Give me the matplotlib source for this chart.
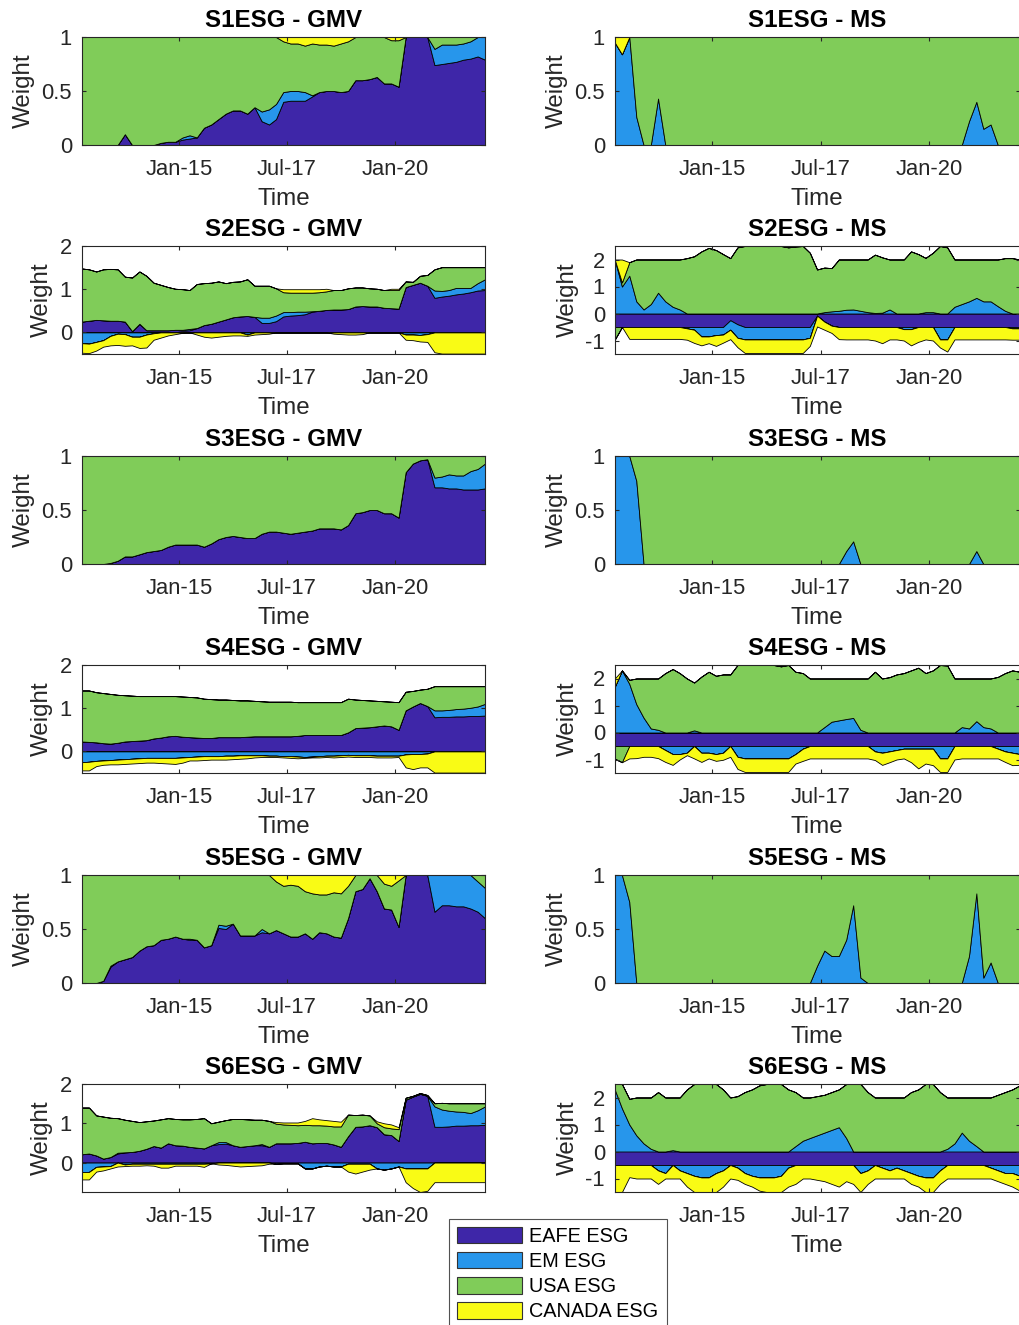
import numpy as np
import pandas as pd
import matplotlib
matplotlib.use("agg")
import matplotlib.pyplot as plt
from matplotlib.patches import Patch

plt.rcParams['font.family'] = ['Liberation Sans', 'DejaVu Sans']
plt.rcParams['axes.unicode_minus'] = False

# bi-monthly portfolio weights, Oct-2012 .. Feb-2022
dates = pd.date_range('2012-10-01', periods=57, freq='2MS')
tick_dates = [pd.Timestamp('2015-01-01'), pd.Timestamp('2017-07-01'), pd.Timestamp('2020-01-01')]
tick_labels = ['Jan-15', 'Jul-17', 'Jan-20']

names = ['EAFE ESG', 'EM ESG', 'USA ESG', 'CANADA ESG']
colors = ['#3E26A8', '#2796EB', '#80CC59', '#F9FB15']

zeros57 = [0] * 57

## S1ESG
s1_gmv_eafe = [0, 0, 0, 0, 0, 0, 0.10, 0, 0, 0,
               0, 0.02, 0.03, 0.03, 0.05, 0.06, 0.07, 0.16, 0.19, 0.24,
               0.29, 0.32, 0.32, 0.29, 0.35, 0.22, 0.19, 0.24, 0.40, 0.41,
               0.41, 0.41, 0.45, 0.49, 0.50, 0.50, 0.49, 0.50, 0.60, 0.60,
               0.61, 0.63, 0.57, 0.57, 0.54, 1.00, 1.00, 1.00, 1.00, 0.74,
               0.75, 0.76, 0.77, 0.79, 0.80, 0.82, 0.79]
s1_gmv_em = [0, 0, 0, 0, 0, 0, 0, 0, 0, 0,
             0, 0, 0, 0, 0.02, 0.03, 0, 0, 0, 0,
             0, 0, 0, 0, 0, 0.09, 0.14, 0.14, 0.09, 0.09,
             0.09, 0.08, 0.01, 0, 0, 0, 0, 0, 0, 0,
             0, 0, 0, 0, 0, 0, 0, 0, 0, 0.15,
             0.18, 0.17, 0.16, 0.15, 0.16, 0.18, 0.21]
s1_gmv_usa = [1, 1, 1, 1, 1, 1, 0.90, 1, 1, 1,
              1, 0.98, 0.97, 0.97, 0.93, 0.91, 0.93, 0.84, 0.81, 0.76,
              0.71, 0.68, 0.68, 0.71, 0.65, 0.69, 0.67, 0.62, 0.47, 0.44,
              0.44, 0.43, 0.48, 0.44, 0.43, 0.42, 0.45, 0.46, 0.40, 0.40,
              0.39, 0.37, 0.43, 0.40, 0.43, 0, 0, 0, 0, 0.11,
              0.07, 0.07, 0.07, 0.06, 0.04, 0, 0]
s1_gmv_can = [0, 0, 0, 0, 0, 0, 0, 0, 0, 0,
              0, 0, 0, 0, 0, 0, 0, 0, 0, 0,
              0, 0, 0, 0, 0, 0, 0, 0, 0.04, 0.06,
              0.06, 0.08, 0.06, 0.07, 0.07, 0.08, 0.06, 0.04, 0, 0,
              0, 0, 0, 0.03, 0.03, 0, 0, 0, 0, 0,
              0, 0, 0, 0, 0, 0, 0]

s1_ms_eafe = zeros57
s1_ms_em = [0.95, 0.84, 1.00, 0.26, 0, 0, 0.43, 0, 0, 0,
            0, 0, 0, 0, 0, 0, 0, 0, 0, 0,
            0, 0, 0, 0, 0, 0, 0, 0, 0, 0,
            0, 0, 0, 0, 0, 0, 0, 0, 0, 0,
            0, 0, 0, 0, 0, 0, 0, 0, 0, 0.22,
            0.40, 0.15, 0.19, 0, 0, 0, 0]
s1_ms_usa = [0, 0, 0, 0.74, 1, 1, 0.57, 1, 1, 1,
             1, 1, 1, 1, 1, 1, 1, 1, 1, 1,
             1, 1, 1, 1, 1, 1, 1, 1, 1, 1,
             1, 1, 1, 1, 1, 1, 1, 1, 1, 1,
             1, 1, 1, 1, 1, 1, 1, 1, 1, 0.78,
             0.60, 0.85, 0.81, 1, 1, 1, 1]
s1_ms_can = [0.05, 0.16] + [0] * 55

## S2ESG
s2_gmv_eafe = [0.25, 0.27, 0.29, 0.28, 0.27, 0.27, 0.25, 0.03, 0.20, 0.05,
               0.05, 0.05, 0.05, 0.06, 0.04, 0.05, 0.10, 0.17, 0.20, 0.25,
               0.30, 0.35, 0.37, 0.38, 0.36, 0.22, 0.22, 0.26, 0.37, 0.39,
               0.40, 0.42, 0.48, 0.50, 0.52, 0.53, 0.53, 0.54, 0.60, 0.61,
               0.60, 0.60, 0.57, 0.56, 0.55, 1.05, 1.10, 1.15, 1.08, 0.80,
               0.83, 0.85, 0.88, 0.90, 0.93, 0.97, 0.98]
s2_gmv_em = [-0.25, -0.26, -0.22, -0.18, -0.08, -0.03, -0.04, -0.10, -0.10, -0.05,
             -0.02, 0, 0, 0, 0.02, 0.03, 0, 0, 0, 0,
             0, 0, 0, -0.05, 0, 0.12, 0.12, 0.13, 0.10, 0.08,
             0.08, 0.06, 0.01, 0, 0, 0, 0, 0, 0, 0,
             0, 0, 0, 0, 0, -0.05, -0.05, -0.06, -0.04, 0.17,
             0.13, 0.13, 0.15, 0.13, 0.10, 0.17, 0.25]
s2_gmv_usa = [1.23, 1.19, 1.12, 1.18, 1.20, 1.19, 1.04, 1.24, 1.21, 1.26,
              1.10, 1.05, 1.00, 0.95, 0.94, 0.90, 1.02, 0.97, 0.95, 0.93,
              0.84, 0.82, 0.81, 0.85, 0.72, 0.74, 0.74, 0.63, 0.46, 0.45,
              0.44, 0.44, 0.43, 0.43, 0.43, 0.45, 0.45, 0.48, 0.44, 0.43,
              0.42, 0.41, 0.41, 0.42, 0.43, 0.13, 0.07, 0.16, 0.25, 0.49,
              0.55, 0.53, 0.48, 0.48, 0.48, 0.37, 0.28]
s2_gmv_can = [-0.22, -0.22, -0.20, -0.15, -0.22, -0.26, -0.27, -0.20, -0.26, -0.30,
              -0.15, -0.12, -0.07, -0.04, -0.01, 0, -0.05, -0.10, -0.12, -0.10,
              -0.08, -0.07, -0.07, -0.03, -0.05, -0.04, -0.03, 0, 0.07, 0.08,
              0.08, 0.08, 0.08, 0.07, 0.06, -0.03, -0.04, -0.05, -0.05, -0.04,
              0, 0, 0, 0.03, 0.03, -0.12, -0.13, -0.15, -0.18, -0.46,
              -0.49, -0.49, -0.49, -0.49, -0.49, -0.49, -0.49]

s2_ms_eafe = [-0.5, -0.5, -0.5, -0.5, -0.5, -0.5, -0.5, -0.5, -0.5, -0.5,
              -0.5, -0.5, -0.5, -0.5, -0.5, -0.5, -0.25, -0.40, -0.5, -0.5,
              -0.5, -0.5, -0.5, -0.5, -0.5, -0.5, -0.5, -0.5, -0.08, -0.30,
              -0.45, -0.5, -0.5, -0.5, -0.5, -0.5, -0.5, -0.5, -0.5, -0.5,
              -0.5, -0.5, -0.5, -0.5, -0.5, -0.5, -0.5, -0.5, -0.5, -0.5,
              -0.5, -0.5, -0.5, -0.5, -0.5, -0.5, -0.5]
s2_ms_em = [2.00, 1.00, 1.40, 0.45, 0.15, 0.35, 0.77, 0.45, 0.25, 0.15,
            -0.05, -0.10, -0.35, -0.35, -0.30, -0.28, -0.35, -0.50, -0.46, -0.46,
            -0.46, -0.46, -0.46, -0.46, -0.46, -0.46, -0.46, -0.40, 0, 0.05,
            0.08, 0.10, 0.14, 0.15, 0.10, 0.05, 0.02, 0.03, 0.15, 0,
            -0.08, -0.08, 0, 0.05, 0.05, -0.46, -0.46, 0.25, 0.35, 0.45,
            0.58, 0.45, 0.45, 0.27, 0.10, -0.05, -0.05]
s2_ms_usa = [-0.47, 0.15, 0.50, 1.55, 1.85, 1.65, 1.23, 1.55, 1.75, 1.85,
             2.05, 2.12, 2.30, 2.43, 2.35, 2.20, 2.05, 2.45, 2.50, 2.50,
             2.50, 2.50, 2.50, 2.50, 2.45, 2.48, 2.50, 2.25, 1.63, 1.65,
             1.60, 1.90, 1.86, 1.85, 1.90, 1.95, 2.16, 2.05, 1.85, 2.00,
             2.00, 2.30, 2.20, 2.01, 2.20, 2.50, 2.45, 1.75, 1.65, 1.55,
             1.42, 1.55, 1.55, 1.73, 1.95, 2.05, 2.00]
s2_ms_can = [0, 0.85, -0.44, -0.44, -0.44, -0.44, -0.44, -0.44, -0.44, -0.44,
             -0.42, -0.49, -0.33, -0.25, -0.40, -0.30, -0.35, -0.35, -0.50, -0.50,
             -0.50, -0.50, -0.50, -0.50, -0.50, -0.50, -0.50, -0.30, -0.40, -0.30,
             -0.27, -0.45, -0.46, -0.46, -0.46, -0.46, -0.50, -0.60, -0.46, -0.46,
             -0.42, -0.60, -0.55, -0.46, -0.50, -0.30, -0.45, -0.46, -0.46, -0.46,
             -0.46, -0.46, -0.46, -0.46, -0.46, -0.42, -0.42]

## S3ESG
s3_gmv_eafe = [0, 0, 0, 0, 0.01, 0.03, 0.07, 0.07, 0.09, 0.11,
               0.12, 0.13, 0.16, 0.18, 0.18, 0.18, 0.18, 0.16, 0.19, 0.23,
               0.25, 0.26, 0.25, 0.24, 0.24, 0.28, 0.30, 0.30, 0.29, 0.28,
               0.29, 0.30, 0.31, 0.33, 0.33, 0.33, 0.32, 0.36, 0.47, 0.48,
               0.50, 0.50, 0.47, 0.47, 0.43, 0.85, 0.93, 0.96, 0.97, 0.71,
               0.71, 0.70, 0.70, 0.69, 0.69, 0.69, 0.70]
s3_gmv_em = [0] * 49 + [0.09, 0.10, 0.13, 0.12, 0.13, 0.17, 0.19, 0.23]
s3_gmv_usa = [1, 1, 1, 1, 0.99, 0.97, 0.93, 0.93, 0.91, 0.89,
              0.88, 0.87, 0.84, 0.82, 0.82, 0.82, 0.82, 0.84, 0.81, 0.77,
              0.75, 0.74, 0.75, 0.76, 0.76, 0.72, 0.70, 0.70, 0.71, 0.72,
              0.71, 0.70, 0.69, 0.67, 0.67, 0.67, 0.68, 0.64, 0.53, 0.52,
              0.50, 0.50, 0.53, 0.53, 0.57, 0.15, 0.07, 0.04, 0.03, 0.20,
              0.19, 0.17, 0.18, 0.18, 0.14, 0.12, 0.07]
s3_gmv_can = zeros57

s3_ms_eafe = zeros57
s3_ms_em = [1.00, 1.00, 1.00, 0.77, 0, 0, 0, 0, 0, 0,
            0, 0, 0, 0, 0, 0, 0, 0, 0, 0,
            0, 0, 0, 0, 0, 0, 0, 0, 0, 0,
            0, 0, 0.12, 0.21, 0, 0, 0, 0, 0, 0,
            0, 0, 0, 0, 0, 0, 0, 0, 0, 0,
            0.12, 0, 0, 0, 0, 0, 0]
s3_ms_usa = [0, 0, 0, 0.23, 1, 1, 1, 1, 1, 1,
             1, 1, 1, 1, 1, 1, 1, 1, 1, 1,
             1, 1, 1, 1, 1, 1, 1, 1, 1, 1,
             1, 1, 0.88, 0.79, 1, 1, 1, 1, 1, 1,
             1, 1, 1, 1, 1, 1, 1, 1, 1, 1,
             0.88, 1, 1, 1, 1, 1, 1]
s3_ms_can = zeros57

## S4ESG
s4_gmv_eafe = [0.23, 0.22, 0.21, 0.19, 0.18, 0.20, 0.23, 0.24, 0.25, 0.26,
               0.30, 0.32, 0.35, 0.36, 0.34, 0.33, 0.32, 0.31, 0.31, 0.33,
               0.33, 0.33, 0.33, 0.34, 0.35, 0.35, 0.35, 0.35, 0.35, 0.35,
               0.36, 0.38, 0.38, 0.38, 0.38, 0.38, 0.38, 0.44, 0.54, 0.55,
               0.56, 0.58, 0.60, 0.58, 0.50, 0.95, 1.04, 1.12, 1.05, 0.79,
               0.80, 0.80, 0.81, 0.81, 0.82, 0.82, 0.83]
s4_gmv_em = [-0.25, -0.24, -0.22, -0.21, -0.20, -0.19, -0.18, -0.17, -0.16, -0.15,
             -0.15, -0.15, -0.15, -0.15, -0.14, -0.13, -0.12, -0.11, -0.11, -0.11,
             -0.10, -0.10, -0.09, -0.09, -0.09, -0.09, -0.10, -0.10, -0.11, -0.11,
             -0.12, -0.13, -0.12, -0.11, -0.10, -0.10, -0.09, -0.08, -0.09, -0.09,
             -0.09, -0.10, -0.10, -0.10, -0.10, -0.07, -0.06, -0.06, -0.05, 0.16,
             0.15, 0.16, 0.17, 0.18, 0.19, 0.22, 0.27]
s4_gmv_usa = [1.18, 1.19, 1.16, 1.16, 1.15, 1.11, 1.07, 1.05, 1.03, 1.02,
              0.98, 0.96, 0.93, 0.92, 0.93, 0.93, 0.93, 0.91, 0.90, 0.87,
              0.87, 0.86, 0.85, 0.84, 0.82, 0.81, 0.80, 0.80, 0.80, 0.80,
              0.78, 0.76, 0.76, 0.76, 0.76, 0.76, 0.76, 0.78, 0.66, 0.64,
              0.62, 0.59, 0.56, 0.57, 0.64, 0.43, 0.36, 0.31, 0.40, 0.56,
              0.56, 0.55, 0.53, 0.52, 0.50, 0.47, 0.41]
s4_gmv_can = [-0.19, -0.20, -0.12, -0.10, -0.10, -0.11, -0.11, -0.11, -0.11, -0.11,
              -0.11, -0.12, -0.13, -0.14, -0.12, -0.08, -0.09, -0.09, -0.08, -0.08,
              -0.09, -0.08, -0.08, -0.07, -0.05, -0.04, -0.03, -0.03, -0.03, -0.04,
              -0.04, -0.02, -0.02, -0.03, -0.03, -0.04, -0.04, -0.04, -0.04, -0.04,
              -0.04, -0.04, -0.04, -0.04, -0.03, -0.30, -0.35, -0.31, -0.32, -0.49,
              -0.49, -0.49, -0.49, -0.49, -0.49, -0.49, -0.49]

s4_ms_eafe = [-0.5] * 57
s4_ms_em = [1.69, 2.30, 1.80, 1.05, 0.55, 0.15, 0.10, -0.15, -0.30, -0.30,
            -0.25, 0.08, -0.25, -0.25, -0.30, -0.25, 0, -0.40, -0.46, -0.46,
            -0.46, -0.46, -0.46, -0.46, -0.46, -0.30, -0.10, 0, 0, 0.20,
            0.40, 0.45, 0.50, 0.54, 0.10, 0, -0.20, -0.25, -0.20, -0.15,
            -0.10, -0.10, -0.10, -0.10, -0.10, -0.46, -0.46, 0, 0.20, 0.15,
            0.42, 0.20, 0.15, -0.10, -0.20, -0.25, -0.30]
s4_ms_usa = [-0.47, -0.60, 0.15, 0.95, 1.45, 1.85, 1.90, 2.20, 2.35, 2.20,
             2.00, 1.77, 2.07, 2.25, 2.10, 2.15, 2.15, 2.50, 2.50, 2.50,
             2.50, 2.50, 2.50, 2.45, 2.50, 2.25, 2.20, 2.00, 2.00, 1.80,
             1.60, 1.55, 1.50, 1.46, 1.90, 2.00, 2.25, 2.00, 2.05, 2.15,
             2.20, 2.30, 2.40, 2.20, 2.30, 2.50, 2.48, 2.00, 1.80, 1.85,
             1.58, 1.80, 1.85, 2.06, 2.20, 2.30, 2.25]
s4_ms_can = [0.31, 0, -0.46, -0.45, -0.40, -0.40, -0.45, -0.44, -0.40, -0.20,
             -0.09, -0.46, -0.34, -0.21, -0.25, -0.26, -0.40, -0.45, -0.50, -0.50,
             -0.50, -0.50, -0.50, -0.50, -0.50, -0.35, -0.45, -0.46, -0.46, -0.46,
             -0.46, -0.46, -0.46, -0.46, -0.46, -0.46, -0.32, -0.45, -0.40, -0.35,
             -0.36, -0.50, -0.73, -0.55, -0.61, -0.50, -0.50, -0.50, -0.46, -0.46,
             -0.46, -0.46, -0.46, -0.36, -0.39, -0.46, -0.40]

## S5ESG
s5_gmv_eafe = [0, 0, 0, 0.02, 0.15, 0.20, 0.22, 0.24, 0.30, 0.34,
               0.35, 0.40, 0.41, 0.43, 0.41, 0.40, 0.40, 0.33, 0.35, 0.51,
               0.50, 0.55, 0.44, 0.44, 0.44, 0.47, 0.46, 0.49, 0.46, 0.43,
               0.43, 0.46, 0.41, 0.47, 0.46, 0.43, 0.42, 0.60, 0.85, 0.87,
               0.97, 0.85, 0.69, 0.68, 0.52, 1.00, 1.00, 1.00, 1.00, 0.66,
               0.72, 0.72, 0.71, 0.71, 0.69, 0.66, 0.60]
s5_gmv_em = [0, 0, 0, 0, 0.01, 0, 0, 0, 0, 0,
             0, 0, 0, 0, 0, 0.01, 0, 0, 0, 0.03,
             0.03, 0, 0, 0, 0, 0.03, 0, 0, 0, 0,
             0, 0, 0, 0, 0, 0, 0, 0, 0, 0,
             0, 0, 0, 0, 0, 0, 0, 0, 0, 0.34,
             0.28, 0.28, 0.29, 0.29, 0.31, 0.28, 0.28]
s5_gmv_usa = [1, 1, 1, 0.98, 0.84, 0.80, 0.78, 0.76, 0.70, 0.66,
              0.65, 0.60, 0.59, 0.57, 0.59, 0.59, 0.60, 0.67, 0.65, 0.46,
              0.47, 0.45, 0.56, 0.56, 0.56, 0.50, 0.54, 0.45, 0.44, 0.48,
              0.47, 0.39, 0.42, 0.35, 0.36, 0.41, 0.41, 0.30, 0.15, 0.13,
              0.03, 0.15, 0.23, 0.22, 0.43, 0, 0, 0, 0, 0,
              0, 0, 0, 0, 0, 0.06, 0.12]
s5_gmv_can = [0, 0, 0, 0, 0, 0, 0, 0, 0, 0,
              0, 0, 0, 0, 0, 0, 0, 0, 0, 0,
              0, 0, 0, 0, 0, 0, 0, 0.06, 0.10, 0.09,
              0.10, 0.15, 0.17, 0.18, 0.18, 0.16, 0.17, 0.10, 0, 0,
              0, 0, 0.08, 0.10, 0.05, 0, 0, 0, 0, 0,
              0, 0, 0, 0, 0, 0, 0]

s5_ms_eafe = zeros57
s5_ms_em = [1.00, 1.00, 0.75, 0, 0, 0, 0, 0, 0, 0,
            0, 0, 0, 0, 0, 0, 0, 0, 0, 0,
            0, 0, 0, 0, 0, 0, 0, 0, 0.16, 0.30,
            0.25, 0.25, 0.40, 0.72, 0.05, 0, 0, 0, 0, 0,
            0, 0, 0, 0, 0, 0, 0, 0, 0, 0.25,
            0.83, 0.05, 0.19, 0, 0, 0, 0]
s5_ms_usa = [0, 0, 0.25, 1, 1, 1, 1, 1, 1, 1,
             1, 1, 1, 1, 1, 1, 1, 1, 1, 1,
             1, 1, 1, 1, 1, 1, 1, 1, 0.84, 0.70,
             0.75, 0.75, 0.60, 0.28, 0.95, 1, 1, 1, 1, 1,
             1, 1, 1, 1, 1, 1, 1, 1, 1, 0.75,
             0.17, 0.95, 0.81, 1, 1, 1, 1]
s5_ms_can = zeros57

## S6ESG
s6_gmv_eafe = [0.21, 0.23, 0.18, 0.10, 0.14, 0.23, 0.26, 0.27, 0.30, 0.35,
               0.42, 0.38, 0.49, 0.44, 0.43, 0.40, 0.38, 0.36, 0.44, 0.47,
               0.48, 0.44, 0.40, 0.42, 0.44, 0.44, 0.40, 0.49, 0.49, 0.49,
               0.50, 0.53, 0.49, 0.50, 0.50, 0.46, 0.40, 0.67, 0.91, 0.92,
               0.95, 0.90, 0.72, 0.70, 0.55, 1.60, 1.68, 1.75, 1.70, 0.91,
               0.91, 0.92, 0.94, 0.94, 0.95, 0.95, 0.96]
s6_gmv_em = [-0.24, -0.24, -0.11, -0.10, -0.09, 0.02, -0.05, -0.03, -0.03, -0.03,
             -0.03, -0.03, -0.03, -0.03, -0.03, -0.03, -0.03, -0.03, -0.02, 0.05,
             0.04, 0, 0, 0, 0, 0.03, 0, -0.03, -0.02, -0.02,
             -0.02, -0.15, -0.15, -0.10, -0.08, -0.10, -0.10, -0.03, -0.03, -0.03,
             -0.03, -0.15, -0.18, -0.15, -0.10, -0.15, -0.15, -0.15, -0.15, 0.52,
             0.44, 0.40, 0.36, 0.35, 0.31, 0.38, 0.47]
s6_gmv_usa = [1.19, 1.17, 1.02, 1.07, 1.00, 0.88, 0.83, 0.79, 0.73, 0.70,
              0.65, 0.72, 0.64, 0.67, 0.67, 0.70, 0.73, 0.77, 0.56, 0.52,
              0.56, 0.67, 0.71, 0.68, 0.65, 0.62, 0.66, 0.50, 0.48, 0.47,
              0.45, 0.43, 0.46, 0.45, 0.44, 0.46, 0.52, 0.55, 0.30, 0.30,
              0.25, 0.10, 0.18, 0.17, 0.30, 0.05, 0.02, 0.02, 0.02, 0.08,
              0.17, 0.19, 0.21, 0.22, 0.25, 0.18, 0.08]
s6_gmv_can = [-0.19, -0.19, -0.12, -0.10, -0.06, -0.10, -0.04, -0.05, -0.05, -0.04,
              -0.05, -0.10, -0.10, -0.05, -0.05, -0.05, -0.05, -0.08, 0, -0.05,
              -0.06, -0.08, -0.10, -0.09, -0.08, -0.07, -0.03, 0.04, 0.05, 0.06,
              0.07, 0.10, 0.18, 0.15, 0.14, 0.14, 0.12, -0.20, -0.25, -0.20,
              -0.15, 0.05, 0.10, 0.10, 0.05, -0.35, -0.50, -0.60, -0.57, -0.50,
              -0.50, -0.50, -0.50, -0.50, -0.50, -0.50, -0.50]

s6_ms_eafe = [-0.5] * 57
s6_ms_em = [2.30, 1.60, 1.00, 0.60, 0.30, 0.10, -0.20, -0.30, 0.05, -0.20,
            -0.30, -0.40, -0.46, -0.46, -0.30, -0.20, 0, -0.10, -0.30, -0.40,
            -0.46, -0.46, -0.46, -0.40, -0.10, 0.20, 0.40, 0.50, 0.60, 0.70,
            0.80, 0.90, 0.50, 0, -0.30, -0.20, 0, -0.10, -0.20, -0.10,
            -0.20, -0.30, -0.40, -0.46, -0.46, -0.20, 0.10, 0.30, 0.70, 0.40,
            0.20, 0, -0.10, -0.20, -0.30, -0.30, -0.40]
s6_ms_usa = [0.20, 0.90, 0.95, 1.40, 1.70, 1.90, 2.20, 2.00, 1.95, 2.00,
             2.30, 2.50, 2.50, 2.50, 2.50, 2.30, 2.00, 2.05, 2.20, 2.30,
             2.45, 2.50, 2.50, 2.50, 2.30, 2.00, 1.60, 1.50, 1.45, 1.40,
             1.40, 1.40, 2.00, 2.50, 2.50, 2.20, 2.00, 2.00, 2.00, 2.00,
             2.00, 2.20, 2.30, 2.50, 2.50, 2.20, 1.90, 1.70, 1.30, 1.60,
             1.80, 2.00, 2.00, 2.10, 2.20, 2.30, 2.45]
s6_ms_can = [-1.00, -1.00, -0.45, -0.50, -0.50, -0.50, -0.50, -0.20, -0.50, -0.30,
             -0.50, -0.60, -0.54, -0.54, -0.70, -0.60, -0.50, -0.45, -0.40, -0.40,
             -0.49, -0.54, -0.54, -0.60, -0.70, -0.70, -0.50, -0.50, -0.55, -0.60,
             -0.70, -0.80, -0.60, -0.70, -0.70, -0.50, -0.50, -0.40, -0.30, -0.40,
             -0.30, -0.40, -0.40, -0.54, -0.54, -0.50, -0.50, -0.50, -0.50, -0.50,
             -0.50, -0.50, -0.40, -0.40, -0.40, -0.50, -0.55]

panels = [
    ('S1ESG - GMV', [s1_gmv_eafe, s1_gmv_em, s1_gmv_usa, s1_gmv_can], (0, 1), [0, 0.5, 1]),
    ('S1ESG - MS', [s1_ms_eafe, s1_ms_em, s1_ms_usa, s1_ms_can], (0, 1), [0, 0.5, 1]),
    ('S2ESG - GMV', [s2_gmv_eafe, s2_gmv_em, s2_gmv_usa, s2_gmv_can], (-0.5, 2), [0, 1, 2]),
    ('S2ESG - MS', [s2_ms_eafe, s2_ms_em, s2_ms_usa, s2_ms_can], (-1.5, 2.5), [-1, 0, 1, 2]),
    ('S3ESG - GMV', [s3_gmv_eafe, s3_gmv_em, s3_gmv_usa, s3_gmv_can], (0, 1), [0, 0.5, 1]),
    ('S3ESG - MS', [s3_ms_eafe, s3_ms_em, s3_ms_usa, s3_ms_can], (0, 1), [0, 0.5, 1]),
    ('S4ESG - GMV', [s4_gmv_eafe, s4_gmv_em, s4_gmv_usa, s4_gmv_can], (-0.5, 2), [0, 1, 2]),
    ('S4ESG - MS', [s4_ms_eafe, s4_ms_em, s4_ms_usa, s4_ms_can], (-1.5, 2.5), [-1, 0, 1, 2]),
    ('S5ESG - GMV', [s5_gmv_eafe, s5_gmv_em, s5_gmv_usa, s5_gmv_can], (0, 1), [0, 0.5, 1]),
    ('S5ESG - MS', [s5_ms_eafe, s5_ms_em, s5_ms_usa, s5_ms_can], (0, 1), [0, 0.5, 1]),
    ('S6ESG - GMV', [s6_gmv_eafe, s6_gmv_em, s6_gmv_usa, s6_gmv_can], (-0.75, 2), [0, 1, 2]),
    ('S6ESG - MS', [s6_ms_eafe, s6_ms_em, s6_ms_usa, s6_ms_can], (-1.5, 2.5), [-1, 0, 1, 2]),
]

axc = '#262626'
W, H = 1020, 1325
fig = plt.figure(figsize=(W / 100, H / 100), dpi=100)

col_left = [81.7, 614.7]
col_width = [403.3, 405.0]
row_top = [37, 246, 456, 665, 875, 1084]
ax_h = 108


def draw_area(ax, series):
    # positive and negative parts stacked separately, like MATLAB area()
    pos = np.zeros(len(dates))
    neg = np.zeros(len(dates))
    for s, c in zip(series, colors):
        s = np.asarray(s, dtype=float)
        p = np.clip(s, 0, None)
        q = np.clip(s, None, 0)
        ax.fill_between(dates, pos, pos + p, facecolor=c, edgecolor='k', linewidth=0.6)
        ax.fill_between(dates, neg, neg + q, facecolor=c, edgecolor='k', linewidth=0.6)
        pos = pos + p
        neg = neg + q


for k, (title, series, ylim, yticks) in enumerate(panels):
    r, c = divmod(k, 2)
    rect = [col_left[c] / W, 1 - (row_top[r] + ax_h) / H, col_width[c] / W, ax_h / H]
    ax = fig.add_axes(rect)
    draw_area(ax, series)
    ax.set_xlim(dates[0], dates[-1])
    ax.set_ylim(*ylim)
    ax.set_xticks(tick_dates)
    ax.set_xticklabels(tick_labels)
    ax.set_yticks(yticks)
    ax.set_yticklabels([('%g' % v) for v in yticks])
    ax.tick_params(direction='in', length=3, width=0.8, colors=axc,
                   labelsize=15.8, top=True, right=True)
    ax.tick_params(axis='x', pad=10)
    ax.tick_params(axis='y', pad=7)
    for sp in ax.spines.values():
        sp.set_color(axc)
        sp.set_linewidth(0.8)
    ax.set_title(title, fontsize=17.4, fontweight='bold', pad=7)
    ax.set_xlabel('Time', fontsize=17.4, color=axc, labelpad=6)
    ax.set_ylabel('Weight', fontsize=17.4, color=axc, labelpad=5)

handles = [Patch(facecolor=col, edgecolor='#333333', linewidth=0.8) for col in colors]
leg = fig.legend(handles, names, loc='upper left', bbox_to_anchor=(449 / W, 1 - 1219 / H),
                 fontsize=14.3, frameon=True, fancybox=False, edgecolor=axc,
                 handlelength=3.3, handleheight=0.9, labelspacing=0.3,
                 handletextpad=0.35, borderpad=0.4, borderaxespad=0)
leg.get_frame().set_linewidth(0.8)

fig.savefig('out.png', dpi=100, facecolor='white')
